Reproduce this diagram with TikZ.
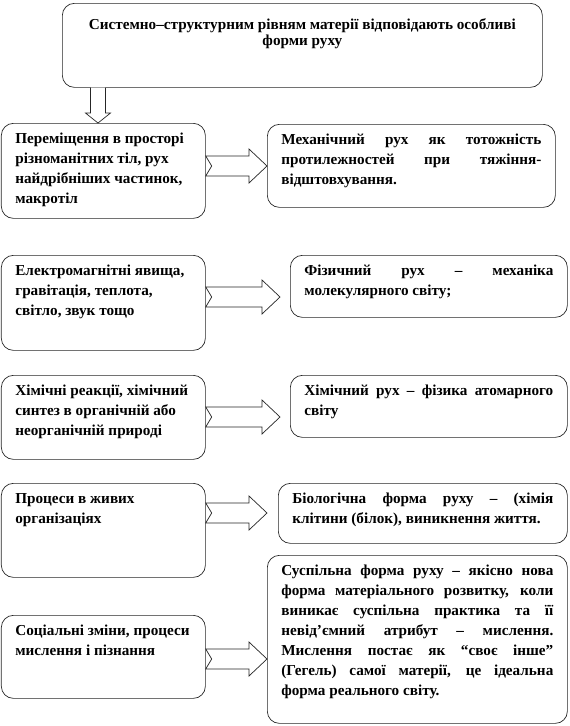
\documentclass[tikz,border=0pt]{standalone}
\usepackage{fontspec}
\setmainfont{Liberation Serif}
\usetikzlibrary{calc}
\tikzset{
  panel box/.style={draw=black!85, line width=0.7pt, rounded corners=12pt, inner xsep=14pt, inner ysep=6pt,
    anchor=north west, font=\bfseries\fontsize{15.2}{20}\selectfont},
  block arrow/.style={draw=black!85, line width=0.7pt, fill=white, line join=miter},
}
\hyphenpenalty=10000
% name, corner, width, height, alignment, text
\newcommand{\drawPanel}[6]{
  \node[panel box] (#1) at (#2) {\parbox[c][\dimexpr#4pt-12pt\relax][t]{\dimexpr#3pt-28pt\relax}{#5\strut#6}};
}
\newcommand{\sideArrow}[2]{
  \draw[block arrow] let \p1=(#1), \p2=(#2) in
    (\x1,\y1+10pt) -- (\x2-18pt,\y1+10pt) -- (\x2-18pt,\y1+17pt) -- (\x2,\y1)
    -- (\x2-18pt,\y1-17pt) -- (\x2-18pt,\y1-10pt) -- (\x1,\y1-10pt) -- (\x1+6pt,\y1) -- cycle;
}
\newcommand{\dropArrow}[2]{
  \draw[block arrow] let \p1=(#1), \p2=(#2) in
    (\x1-7.5pt,\y1) -- (\x1-7.5pt,\y2+10pt) -- (\x1-12.5pt,\y2+10pt) -- (\x1,\y2)
    -- (\x1+12.5pt,\y2+10pt) -- (\x1+7.5pt,\y2+10pt) -- (\x1+7.5pt,\y1);
}

\begin{document}
\begin{tikzpicture}[x=1pt, y=-1pt]
  \useasboundingbox (0,0) rectangle (570,726);
  % header
  \drawPanel{top}{62,3}{480}{84}{\centering\fontsize{15.2}{15}\selectfont\rule{0pt}{20pt}}{Системно–структурним рівням матерії відповідають особливі\\ форми руху}
  % left column
  \drawPanel{l1}{1,123}{204}{95}{\raggedright}{Переміщення в просторі\\ різноманітних тіл, рух\\ найдрібніших частинок,\\ макротіл}
  \drawPanel{l2}{1,255}{204}{95}{\raggedright}{Електромагнітні явища,\\ гравітація, теплота,\\ світло, звук тощо}
  \drawPanel{l3}{1,375}{204}{84}{\raggedright}{Хімічні реакції, хімічний\\ синтез в органічній або\\ неорганічній природі}
  \drawPanel{l4}{1,483}{204}{94}{\raggedright}{Процеси в живих\\ організаціях}
  \drawPanel{l5}{1,615}{204}{83}{\raggedright}{Соціальні зміни, процеси\\ мислення і пізнання}
  % right column
  \drawPanel{r1}{267,124}{288}{83}{}{Механічний рух як тотожність\linebreak протилежностей при тяжіння-\linebreak відштовхування.}
  \drawPanel{r2}{290,255}{277}{62}{}{Фізичний рух – механіка\linebreak молекулярного світу;}
  \drawPanel{r3}{290,375}{277}{62}{}{Хімічний рух – фізика атомарного\linebreak світу}
  \drawPanel{r4}{278,483}{289}{60}{}{Біологічна форма руху – (хімія\linebreak клітини (білок), виникнення життя.}
  \drawPanel{r5}{267,555}{300}{168}{}{Суспільна форма руху – якісно нова\linebreak форма матеріального розвитку, коли\linebreak виникає суспільна практика та її\linebreak невід’ємний атрибут – мислення.\linebreak Мислення постає як “своє інше”\linebreak (Гегель) самої матерії, це ідеальна\linebreak форма реального світу.}
  % arrows
  \coordinate (d1s) at (top.south -| 98,0);
  \coordinate (d1e) at (l1.north -| 98,0);
  \dropArrow{d1s}{d1e}
  \coordinate (a1s) at (l1.east |- 0,166);
  \coordinate (a1e) at (r1.west |- 0,166);
  \sideArrow{a1s}{a1e}
  \coordinate (a2s) at (l2.east |- 0,297);
  \coordinate (a2e) at ($(r2.west |- 0,297)+(-10,0)$);
  \sideArrow{a2s}{a2e}
  \coordinate (a3s) at (l3.east |- 0,417);
  \coordinate (a3e) at ($(r3.west |- 0,417)+(-10,0)$);
  \sideArrow{a3s}{a3e}
  \coordinate (a4s) at (l4.east |- 0,513);
  \coordinate (a4e) at ($(r4.west |- 0,513)+(-11,0)$);
  \sideArrow{a4s}{a4e}
  \coordinate (a5s) at (l5.east |- 0,659);
  \coordinate (a5e) at (r5.west |- 0,659);
  \sideArrow{a5s}{a5e}
\end{tikzpicture}
\end{document}
